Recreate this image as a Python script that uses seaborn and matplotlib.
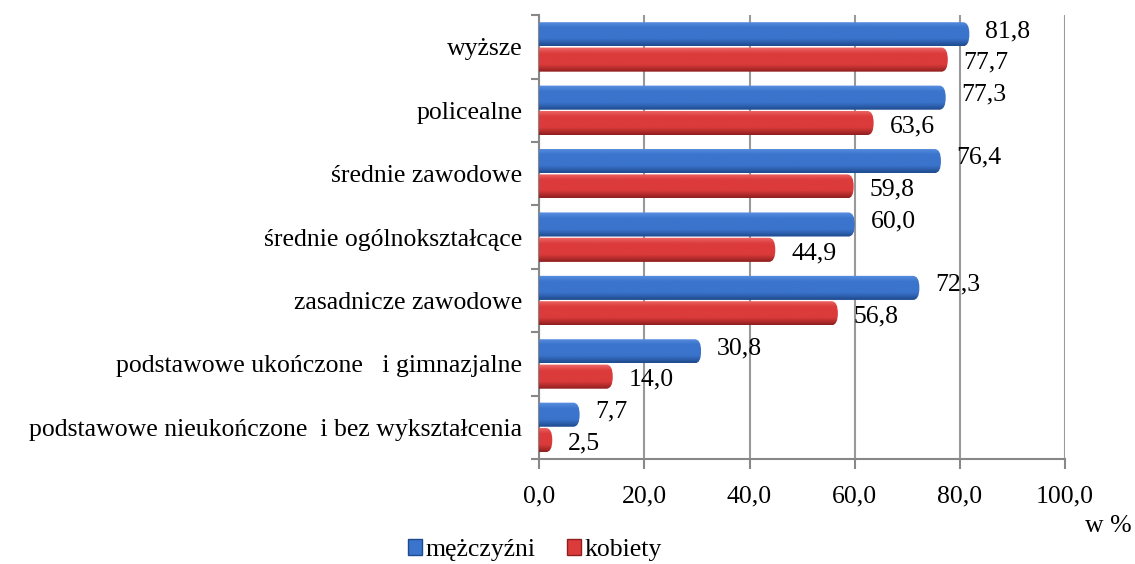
import numpy as np
import pandas as pd
import matplotlib
matplotlib.use("Agg")
import matplotlib.pyplot as plt
import seaborn as sns
from matplotlib.patches import Rectangle, FancyBboxPatch
from matplotlib.colors import LinearSegmentedColormap

categories = ["wyższe", "policealne", "średnie zawodowe", "średnie ogólnokształcące",
              "zasadnicze zawodowe", "podstawowe ukończone   i gimnazjalne",
              "podstawowe nieukończone  i bez wykształcenia"]
men = [81.8, 77.3, 76.4, 60.0, 72.3, 30.8, 7.7]
women = [77.7, 63.6, 59.8, 44.9, 56.8, 14.0, 2.5]
series = ["mężczyźni", "kobiety"]
xticks = [0, 20, 40, 60, 80, 100]

sns.set_theme(style="white")
plt.rcParams['font.family'] = ['Liberation Serif', 'DejaVu Serif']
plt.rcParams['text.color'] = 'black'
FS = 18.5

df = pd.DataFrame({
    "cat": categories * 2,
    "val": men + women,
    "sex": [series[0]] * len(categories) + [series[1]] * len(categories),
})

colors = {"mężczyźni": "#3b74cc", "kobiety": "#dc3b3b"}
top_c = {"mężczyźni": "#5b90e2", "kobiety": "#ef6a6a"}
bot_c = {"mężczyźni": "#1f4a8e", "kobiety": "#8f1f1f"}

fig = plt.figure(figsize=(11.35, 5.64), dpi=100)
ax = fig.add_axes([0.475, 0.186, 0.4634, 0.787])
sns.barplot(data=df, y="cat", x="val", hue="sex", order=categories, hue_order=series,
            palette=colors, orient="h", width=0.8, gap=0.05, ax=ax, legend=False,
            errorbar=None)

ax.set_xlim(0, 100)
ax.set_ylim(len(categories) - 0.5, -0.5)

# cylinder look: vertical gradient clipped to a bar with a rounded end
r = 1.2  # x-radius of the rounded end, in data units
n = len(categories)
for i, s in enumerate(series):
    cmap = LinearSegmentedColormap.from_list(
        s, [(0, top_c[s]), (0.25, colors[s]), (0.7, colors[s]), (1, bot_c[s])])
    grad = np.linspace(0, 1, 64).reshape(-1, 1)
    for p in ax.patches[i * n:(i + 1) * n]:
        x0, y0 = p.get_x(), p.get_y()
        w, h = p.get_width(), p.get_height()
        p.set_facecolor("none")
        p.set_edgecolor("none")
        shape = FancyBboxPatch((x0 - r, y0), w + r, h,
                               boxstyle=f"round,pad=0,rounding_size={r}",
                               mutation_aspect=(h / 2) / r,
                               facecolor="none", edgecolor="none", transform=ax.transData)
        ax.add_patch(shape)
        im = ax.imshow(grad, cmap=cmap, aspect="auto", extent=(x0 - r, x0 + w, y0 + h, y0),
                       zorder=3, interpolation="bicubic")
        im.set_clip_path(shape)

# data labels
vals = {series[0]: men, series[1]: women}
for i, s in enumerate(series):
    for j, p in enumerate(ax.patches[i * n:(i + 1) * n]):
        v = vals[s][j]
        yc = p.get_y() + p.get_height() / 2
        dy = -0.05 if i == 0 else 0.05
        ax.text(p.get_x() + p.get_width() + 3.0, yc + dy, f"{v:.1f}".replace(".", ","),
                ha="left", va="center", fontsize=FS, color="black", zorder=5)

ax.set_xticks(xticks)
ax.set_xticklabels([f"{t:.1f}".replace(".", ",") for t in xticks], fontsize=FS)
ax.set_yticks(range(n))
ax.set_yticklabels(categories, fontsize=FS)
ax.set_yticks(np.arange(-0.5, n, 1), minor=True)
ax.tick_params(axis="y", which="major", length=0, pad=12, labelcolor="black")
ax.tick_params(axis="y", which="minor", length=6, color="#888888", width=1.5, left=True)
ax.tick_params(axis="x", which="major", length=7, color="#888888", width=1.5, bottom=True,
               pad=12, labelcolor="black")
ax.set_xlabel("")
ax.set_ylabel("")
ax.grid(axis="x", color="#999999", linewidth=1.5)
ax.set_axisbelow(True)
for sp in ["top", "right"]:
    ax.spines[sp].set_visible(False)
for sp in ["left", "bottom"]:
    ax.spines[sp].set_color("#888888")
    ax.spines[sp].set_linewidth(1.5)

fig.text(1108 / 1135, 1 - 526 / 564, "w %", fontsize=FS, ha="center", va="center",
         color="black")

handles = [Rectangle((0, 0), 1, 1, facecolor=colors[s], edgecolor=bot_c[s]) for s in series]
leg = fig.legend(handles, series, loc="center", bbox_to_anchor=(535 / 1135, 1 - 550 / 564),
                 ncol=2, frameon=False, fontsize=FS, handlelength=0.55, handleheight=0.55,
                 handletextpad=0.15, columnspacing=1.2, borderpad=0)
for t in leg.get_texts():
    t.set_color("black")

fig.savefig("out.png", dpi=100)
